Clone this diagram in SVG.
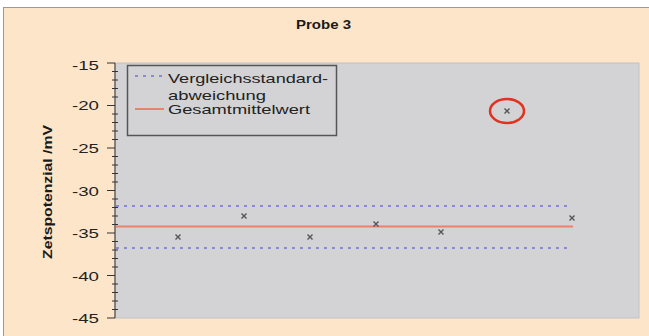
<svg xmlns="http://www.w3.org/2000/svg" width="649" height="336" viewBox="0 0 649 336">
  <style>
    .lbl { font-family: "Liberation Sans", Arial, sans-serif; font-size: 13px; fill: #222; }
    .tick { font-family: "Liberation Sans", Arial, sans-serif; font-size: 13px; fill: #222; text-anchor: end; }
    .bold { font-family: "Liberation Sans", Arial, sans-serif; font-weight: bold; fill: #1a1a1a; }
    .dot { stroke: #8a8ad0; stroke-width: 2; stroke-dasharray: 3 5; fill: none; }
    .mean { stroke: #e8836a; stroke-width: 2; fill: none; }
    .mark { stroke: #555; stroke-width: 1.4; fill: none; }
    .axis { stroke: #333; stroke-width: 1; fill: none; }
  </style>
  <rect x="0" y="0" width="649" height="336" fill="#ffffff"/>
  <rect x="3.5" y="7.5" width="700" height="400" fill="#fde5c9" stroke="#9a9a9a" stroke-width="1"/>

  <g id="title">
    <text class="bold" x="296" y="29" font-size="13" textLength="55" lengthAdjust="spacingAndGlyphs">Probe 3</text>
  </g>

  <g id="plot-area">
    <rect x="115" y="63" width="524" height="255" fill="#d3d3d5" stroke="#c2c2c4" stroke-width="1"/>
  </g>

  <g id="y-axis">
    <line class="axis" x1="115" y1="63" x2="115" y2="318"/>
    <path class="axis" d="M107 63H115M107 105.5H115M107 148H115M107 190.5H115M107 233H115M107 275.5H115M107 318H115"/>
    <path class="axis" d="M112 71.5H118M112 80H118M112 88.5H118M112 97H118M112 114H118M112 122.5H118M112 131H118M112 139.5H118M112 156.5H118M112 165H118M112 173.5H118M112 182H118M112 199H118M112 207.5H118M112 216H118M112 224.5H118M112 241.5H118M112 250H118M112 258.5H118M112 267H118M112 284H118M112 292.5H118M112 301H118M112 309.5H118"/>
    <text class="tick" x="99" y="69.5" textLength="27" lengthAdjust="spacingAndGlyphs">-15</text>
    <text class="tick" x="99" y="110" textLength="27" lengthAdjust="spacingAndGlyphs">-20</text>
    <text class="tick" x="99" y="153" textLength="27" lengthAdjust="spacingAndGlyphs">-25</text>
    <text class="tick" x="99" y="195.5" textLength="27" lengthAdjust="spacingAndGlyphs">-30</text>
    <text class="tick" x="99" y="238" textLength="27" lengthAdjust="spacingAndGlyphs">-35</text>
    <text class="tick" x="99" y="280.5" textLength="27" lengthAdjust="spacingAndGlyphs">-40</text>
    <text class="tick" x="99" y="323" textLength="27" lengthAdjust="spacingAndGlyphs">-45</text>
    <text class="bold" font-size="12" text-anchor="middle" transform="translate(52 192) rotate(-90)" textLength="134" lengthAdjust="spacingAndGlyphs">Zetspotenzial /mV</text>
  </g>

  <g id="connectors">
    <line id="upper-limit" class="dot" x1="116" y1="206" x2="572" y2="206"/>
    <line id="lower-limit" class="dot" x1="116" y1="248" x2="572" y2="248"/>
    <line id="mean-line" class="mean" x1="116" y1="226.5" x2="573" y2="226.5"/>
  </g>

  <g id="points">
    <path class="mark" d="M175.5 234.5l5 5M180.5 234.5l-5 5"/>
    <path class="mark" d="M241.5 213.5l5 5M246.5 213.5l-5 5"/>
    <path class="mark" d="M307.5 234.5l5 5M312.5 234.5l-5 5"/>
    <path class="mark" d="M373.5 221.5l5 5M378.5 221.5l-5 5"/>
    <path class="mark" d="M438.5 229.5l5 5M443.5 229.5l-5 5"/>
    <path class="mark" d="M504.5 108.5l5 5M509.5 108.5l-5 5"/>
    <path class="mark" d="M569.5 215.5l5 5M574.5 215.5l-5 5"/>
  </g>

  <g id="outlier-circle">
    <ellipse cx="507" cy="111" rx="17" ry="12" fill="none" stroke="#e0321f" stroke-width="2.5"/>
  </g>

  <g id="legend">
    <rect x="127.5" y="65.5" width="209" height="70" fill="#d3d3d5" stroke="#555" stroke-width="1.5"/>
    <line class="dot" x1="135" y1="76" x2="164" y2="76"/>
    <line class="mean" x1="135" y1="109" x2="164" y2="109"/>
    <text class="lbl" x="168" y="83" textLength="160" lengthAdjust="spacingAndGlyphs">Vergleichsstandard-</text>
    <text class="lbl" x="168" y="99.5" textLength="98" lengthAdjust="spacingAndGlyphs">abweichung</text>
    <text class="lbl" x="168" y="113.5" textLength="142" lengthAdjust="spacingAndGlyphs">Gesamtmittelwert</text>
  </g>
</svg>
